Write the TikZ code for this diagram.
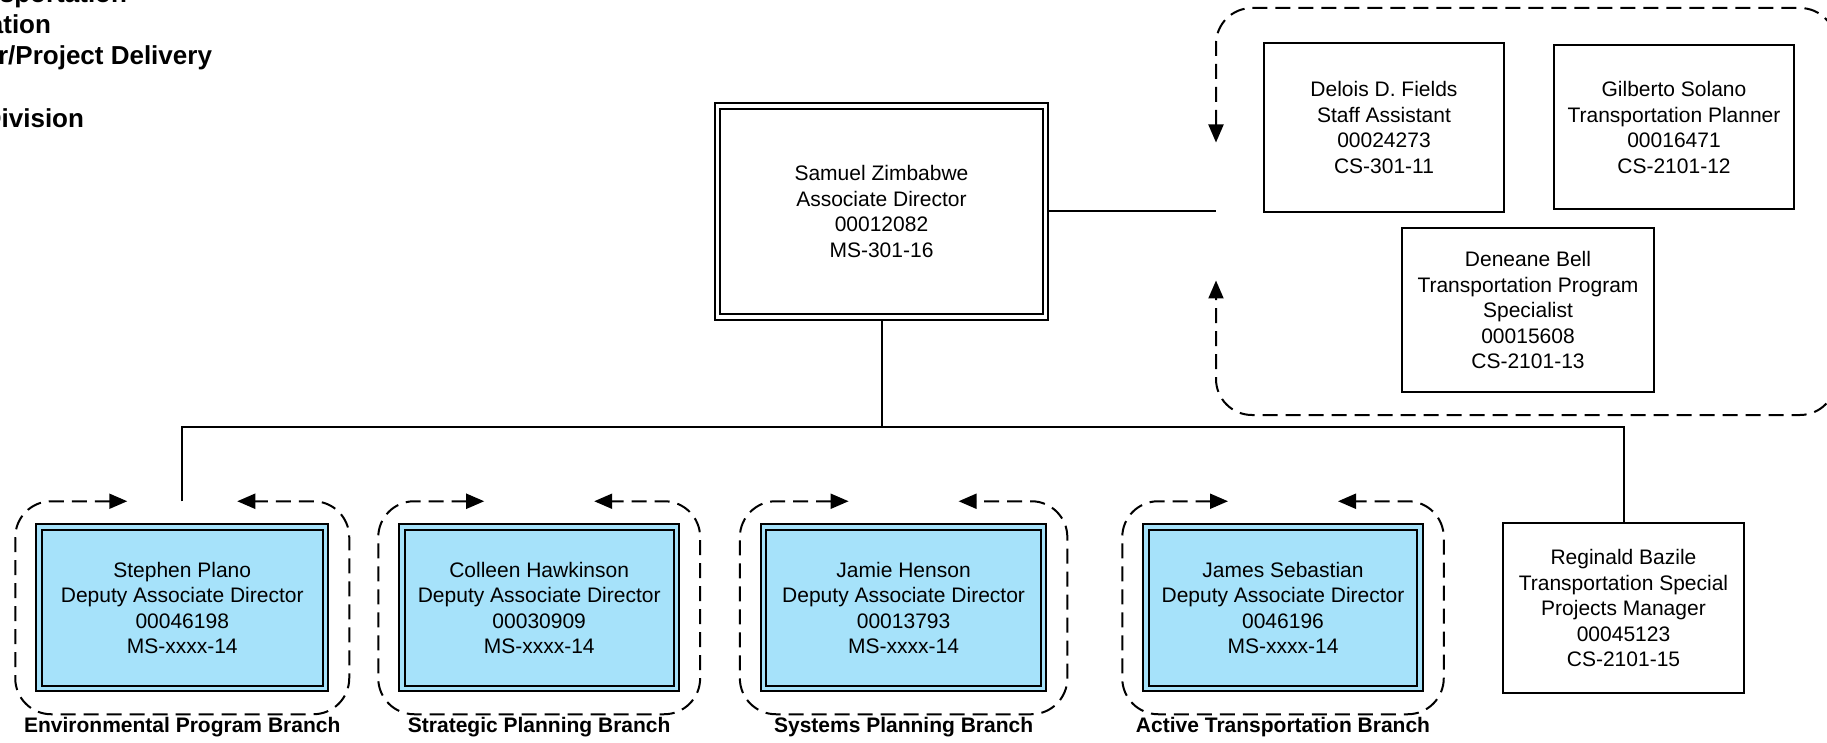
\documentclass[tikz,border=0pt]{standalone}
\usepackage{fontspec}
\setmainfont{Liberation Sans}
\usetikzlibrary{positioning,fit,arrows.meta}

\definecolor{dabox}{RGB}{166,226,250}

\tikzset{
  staff/.style={draw, fill=white, align=center, inner sep=0pt,
    font=\fontsize{10.5}{12.75}\selectfont},
  head/.style={staff, double, double distance=1.75pt, outer sep=1.875pt},
  dep/.style={head, fill=dabox, double=dabox,
    minimum height=80.75pt},
  grp/.style={inner xsep=10pt, inner ysep=11pt, outer sep=0pt},
  fb/.style={<->, line width=1pt, dash pattern=on 7.5pt off 4pt,
    rounded corners=18pt},
  brn/.style={inner sep=0pt, font=\fontsize{10.5}{12.75}\selectfont\bfseries},
  hdr/.style={inner sep=0pt, anchor=base east,
    font=\fontsize{13}{15}\selectfont\bfseries}
}

\begin{document}
\begin{tikzpicture}[x=0.5pt, y=-0.5pt, line width=1pt,
    >={Triangle[length=9pt,width=7.5pt]}]

  \useasboundingbox (0,0) rectangle (1827,743);

  \node[hdr] (h1) at (128,3)   {sportation};
  \node[hdr] (h2) at (52,34)   {ation};
  \node[hdr] (h3) at (213,65)  {r/Project Delivery};
  \node[hdr] (h4) at (85,128)  {Division};

  \node[head, minimum width=164pt, minimum height=105.5pt] (sz) at (881.5,211.5)
    {Samuel Zimbabwe\\Associate Director\\00012082\\MS-301-16};

  \node[staff, minimum width=120pt, minimum height=84.5pt] (df) at (1384,127.5)
    {Delois D. Fields\\Staff Assistant\\00024273\\CS-301-11};
  \node[staff, minimum width=120pt, minimum height=82pt, right = 24pt of df] (gs)
    {Gilberto Solano\\Transportation Planner\\00016471\\CS-2101-12};
  \node[staff, minimum width=126pt, minimum height=82pt] (db) at (1528,310)
    {Deneane Bell\\Transportation Program\\Specialist\\00015608\\CS-2101-13};
  \node[grp, inner sep=0pt, minimum width=310pt, minimum height=203.5pt] (st) at (1526,211.5) {};

  \node[dep, minimum width=143.25pt] (b1) at (182.25,607.75)
    {Stephen Plano\\Deputy Associate Director\\00046198\\MS-xxxx-14};
  \node[dep, minimum width=137.2pt] (b2) at (539.2,607.75)
    {Colleen Hawkinson\\Deputy Associate Director\\00030909\\MS-xxxx-14};
  \node[dep, minimum width=140pt] (b3) at (903.6,607.75)
    {Jamie Henson\\Deputy Associate Director\\00013793\\MS-xxxx-14};
  \node[dep, minimum width=137pt] (b4) at (1283,607.75)
    {James Sebastian\\Deputy Associate Director\\0046196\\MS-xxxx-14};

  \node[staff, minimum width=120.5pt, minimum height=85pt] (rb) at (1623.5,608)
    {Reginald Bazile\\Transportation Special\\Projects Manager\\00045123\\CS-2101-15};

  \node[grp, fit=(b1)] (g1) {};
  \node[grp, fit=(b2)] (g2) {};
  \node[grp, fit=(b3)] (g3) {};
  \node[grp, fit=(b4)] (g4) {};

  \node[brn, below = 1pt of g1] (l1) {Environmental Program Branch};
  \node[brn, below = 1pt of g2] (l2) {Strategic Planning Branch};
  \node[brn, below = 1pt of g3] (l3) {Systems Planning Branch};
  \node[brn, below = 1pt of g4] (l4) {Active Transportation Branch};

  % dashed loops
  \foreach \g in {g1,g2,g3,g4}
    \draw[fb] ([xshift=-27.5pt]\g.north) -| (\g.south west) -| (\g.north east)
      -- ([xshift=27.5pt]\g.north);
  \draw[fb] ([yshift=34.5pt]st.west) |- (st.north east) |- (st.south west)
    -- ([yshift=-34.5pt]st.west);

  % Connect the nodes
  \coordinate (bus) at (881.5,427);
  \draw (sz.east) -- (st.west);
  \draw (sz.south) -- (bus);
  \draw (g1.north) |- (bus) -| (rb.north);

\end{tikzpicture}
\end{document}
